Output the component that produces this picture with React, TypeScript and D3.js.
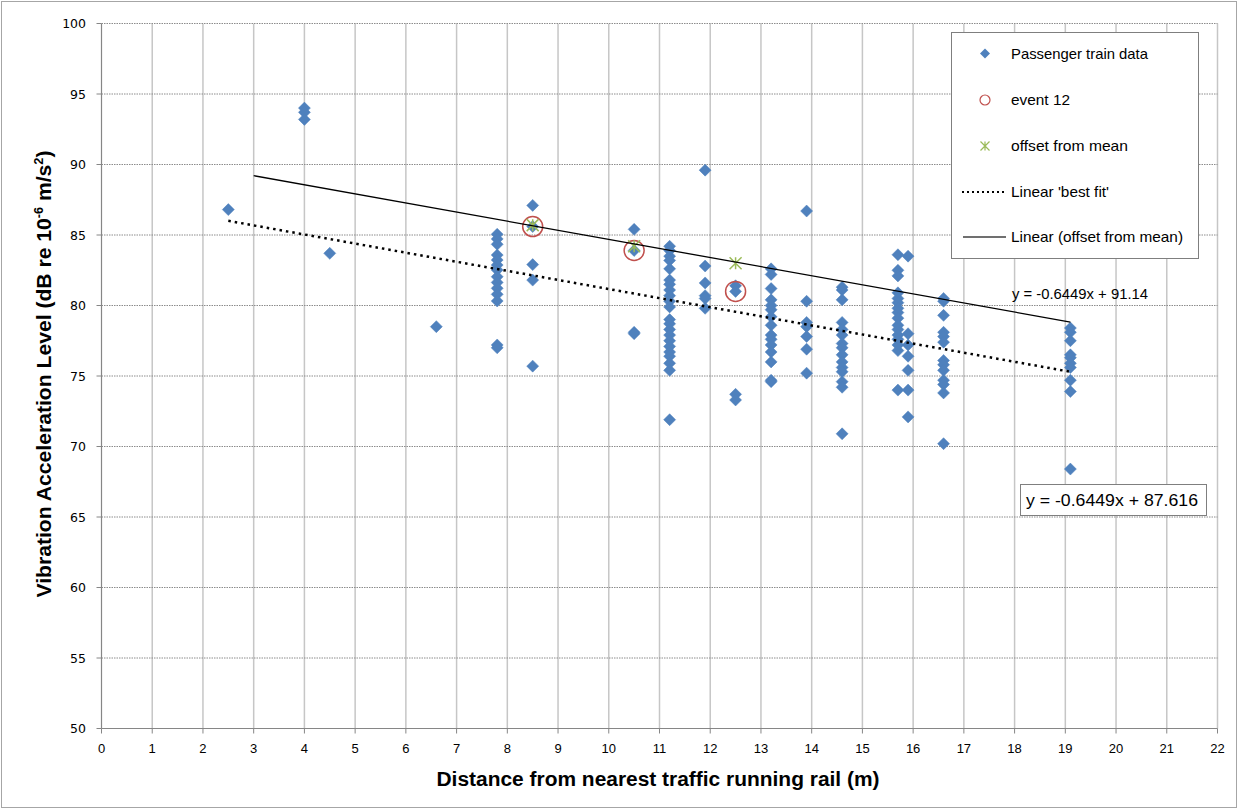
import React from 'react';
import * as d3 from 'd3';

// ---- Data ----
const distances = [2.5, 4.0, 4.5, 6.6, 7.8, 8.5, 10.5, 11.2, 11.9, 12.5, 13.2, 13.9, 14.6, 15.7, 15.9, 16.6, 19.1];
const levels: number[][] = [
  [86.8],
  [94.0, 93.7, 93.2],
  [83.7],
  [78.5],
  [85.05, 84.72, 84.34, 83.58, 83.23, 82.87, 82.52, 82.04, 81.64, 81.22, 80.79, 80.32, 77.2, 77.0],
  [87.1, 85.6, 82.9, 81.8, 75.7],
  [85.4, 83.9, 78.1, 78.0],
  [84.2, 83.9, 83.5, 83.2, 82.6, 81.8, 81.5, 81.1, 80.7, 80.3, 79.9, 79.0, 78.7, 78.3, 77.9, 77.5, 77.1, 76.7, 76.4, 75.9, 75.4, 71.9],
  [89.6, 82.8, 81.6, 80.7, 80.5, 79.8],
  [81.4, 81.0, 73.7, 73.3],
  [82.6, 82.2, 81.2, 80.4, 80.0, 79.7, 79.2, 78.6, 77.9, 77.6, 77.2, 76.7, 76.0, 74.7, 74.6],
  [86.7, 80.3, 78.8, 78.5, 77.8, 76.9, 75.2],
  [81.3, 81.1, 80.4, 78.8, 78.3, 77.9, 77.3, 77.0, 76.5, 76.0, 75.6, 75.3, 74.6, 74.2, 70.9],
  [83.6, 82.5, 82.1, 80.9, 80.5, 80.2, 79.8, 79.5, 79.1, 78.6, 78.3, 77.9, 77.6, 77.2, 76.8, 74.0],
  [83.5, 78.0, 77.2, 76.4, 75.4, 74.0, 72.1],
  [80.5, 80.3, 79.3, 78.1, 77.8, 77.4, 76.1, 75.8, 75.4, 74.7, 74.4, 73.8, 70.2],
  [78.4, 78.1, 77.5, 76.5, 76.3, 75.9, 75.6, 74.7, 73.9, 68.4],
];
const eventX = [8.5, 10.5, 12.5];
const eventY = [85.6, 83.9, 81.0];
const offsetX = [8.5, 10.5, 12.5];
const offsetY = [85.7, 84.2, 83.0];

const slope = -0.6449;
const bestFitIntercept = 87.616;
const bestFitRange = [2.5, 19.1];
const offsetIntercept = 91.14;
const offsetRange = [3, 19.1];

const xTicks = d3.range(0, 23, 1);
const yTicks = d3.range(50, 101, 5);

const legendItems = ['Passenger train data', 'event 12', 'offset from mean', "Linear 'best fit'", 'Linear (offset from mean)'];

const W = 1238, H = 809;
const PL = 101.5, PR = 1217.5, PT = 23.5, PB = 728.5;
const BLUE = '#4f81bd', RED = '#c0504d', GREEN = '#9bbb59';
const FONT = "'Liberation Sans', Arial, sans-serif";

function diamond(cx: number, cy: number, r: number) {
  return `M${cx},${cy - r}L${cx + r},${cy}L${cx},${cy + r}L${cx - r},${cy}Z`;
}
function star(cx: number, cy: number, s: number) {
  return `M${cx - s},${cy - s}L${cx + s},${cy + s}M${cx - s},${cy + s}L${cx + s},${cy - s}M${cx},${cy - s}L${cx},${cy + s}`;
}

export default function App() {
  const x = d3.scaleLinear().domain([0, 22]).range([PL, PR]);
  const y = d3.scaleLinear().domain([50, 100]).range([PB, PT]);

  const points: [number, number][] = [];
  distances.forEach((d, i) => levels[i].forEach(v => points.push([d, v])));

  const bestFitLine = d3.line<number>().x(d => x(d)).y(d => y(slope * d + bestFitIntercept))(bestFitRange);
  const offsetLine = d3.line<number>().x(d => x(d)).y(d => y(slope * d + offsetIntercept))(offsetRange);

  const legX = 951, legY = 32, legW = 247, legH = 226;
  const rowY = [53.5, 100, 146, 192, 237];
  const symX = 985;
  const legLens = [137, 59, 117, 98, 172];

  return (
    <svg width={W} height={H} style={{ position: 'absolute', left: 0, top: 0, background: '#fff' }} fontFamily={FONT}>
      <rect x={0} y={0} width={W} height={H} fill="#fff" />
      <rect x={1.5} y={1.5} width={W - 3} height={H - 3} fill="none" stroke="#a6a6a6" strokeWidth={1} />

      {/* vertical gridlines */}
      {xTicks.filter(t => t > 0).map(t => (
        <line key={'vg' + t} x1={x(t)} x2={x(t)} y1={PT} y2={PB} stroke="#c6c6c6" strokeWidth={1.5} />
      ))}
      {/* horizontal gridlines */}
      {yTicks.filter(t => t > 50).map(t => (
        <line key={'hg' + t} x1={PL} x2={PR} y1={y(t)} y2={y(t)} stroke="#8c8c8c" strokeWidth={1} strokeDasharray="1.5 1" />
      ))}

      {/* axes */}
      <line x1={PL} x2={PL} y1={PT} y2={PB} stroke="#868686" strokeWidth={1.2} />
      <line x1={PL} x2={PR} y1={PB} y2={PB} stroke="#868686" strokeWidth={1.2} />
      {xTicks.map(t => (
        <line key={'xt' + t} x1={x(t)} x2={x(t)} y1={PB} y2={PB + 5} stroke="#868686" strokeWidth={1} />
      ))}
      {yTicks.map(t => (
        <line key={'yt' + t} x1={PL - 5} x2={PL} y1={y(t)} y2={y(t)} stroke="#868686" strokeWidth={1} />
      ))}
      {xTicks.map(t => (
        <text key={'xl' + t} x={x(t)} y={753} textAnchor="middle" fontSize={13} fill="#000">{t}</text>
      ))}
      {yTicks.map(t => (
        <text key={'yl' + t} x={86} y={y(t) + 4.5} textAnchor="end" fontSize={12.5} fontFamily="'DejaVu Sans', sans-serif" fill="#000">{t}</text>
      ))}

      {/* axis titles */}
      <text x={658} y={786} textAnchor="middle" fontSize={20} fontWeight="bold" textLength={443} lengthAdjust="spacingAndGlyphs">Distance from nearest traffic running rail (m)</text>
      <text transform="translate(51,374) rotate(-90)" textAnchor="middle" fontSize={20} fontWeight="bold" textLength={447} lengthAdjust="spacingAndGlyphs">
        Vibration Acceleration Level (dB re 10<tspan fontSize={12} dy={-8}>-6</tspan><tspan dy={8}> m/s</tspan><tspan fontSize={12} dy={-8}>2</tspan><tspan dy={8}>)</tspan>
      </text>

      {/* data points */}
      {points.map(([d, v], i) => (
        <path key={'p' + i} d={diamond(x(d), y(v), 6)} fill={BLUE} stroke={BLUE} strokeWidth={0.5} />
      ))}
      {eventX.map((d, i) => (
        <circle key={'e' + i} cx={x(d)} cy={y(eventY[i])} r={10} fill="none" stroke={RED} strokeWidth={1.5} />
      ))}
      {offsetX.map((d, i) => (
        <path key={'o' + i} d={star(x(d), y(offsetY[i]), 6)} fill="none" stroke={GREEN} strokeWidth={1.5} />
      ))}

      {/* trend lines */}
      <path d={bestFitLine || ''} fill="none" stroke="#000" strokeWidth={2.5} strokeDasharray="2.5 4" />
      <path d={offsetLine || ''} fill="none" stroke="#000" strokeWidth={1.3} />

      {/* equation labels */}
      <text x={1012} y={299} fontSize={14} textLength={136} lengthAdjust="spacingAndGlyphs">y = -0.6449x + 91.14</text>
      <rect x={1020.5} y={484.5} width={186} height={31} fill="#fff" stroke="#7f7f7f" strokeWidth={1} />
      <text x={1026} y={506} fontSize={16.5} textLength={172} lengthAdjust="spacingAndGlyphs">y = -0.6449x + 87.616</text>

      {/* legend */}
      <rect x={legX + 0.5} y={legY + 0.5} width={legW} height={legH} fill="#fff" stroke="#7f7f7f" strokeWidth={1} />
      <path d={diamond(symX, rowY[0], 5)} fill={BLUE} />
      <circle cx={symX} cy={rowY[1]} r={5} fill="none" stroke={RED} strokeWidth={1.2} />
      <path d={star(symX, rowY[2], 4.5)} fill="none" stroke={GREEN} strokeWidth={1.2} />
      <line x1={962} x2={1006} y1={rowY[3]} y2={rowY[3]} stroke="#000" strokeWidth={2} strokeDasharray="2 3" />
      <line x1={963} x2={1006} y1={rowY[4]} y2={rowY[4]} stroke="#404040" strokeWidth={1.3} />
      {legendItems.map((t, i) => (
        <text key={'lg' + i} x={1011} y={rowY[i] + 5} fontSize={14.5} textLength={legLens[i]} lengthAdjust="spacingAndGlyphs">{t}</text>
      ))}
    </svg>
  );
}
